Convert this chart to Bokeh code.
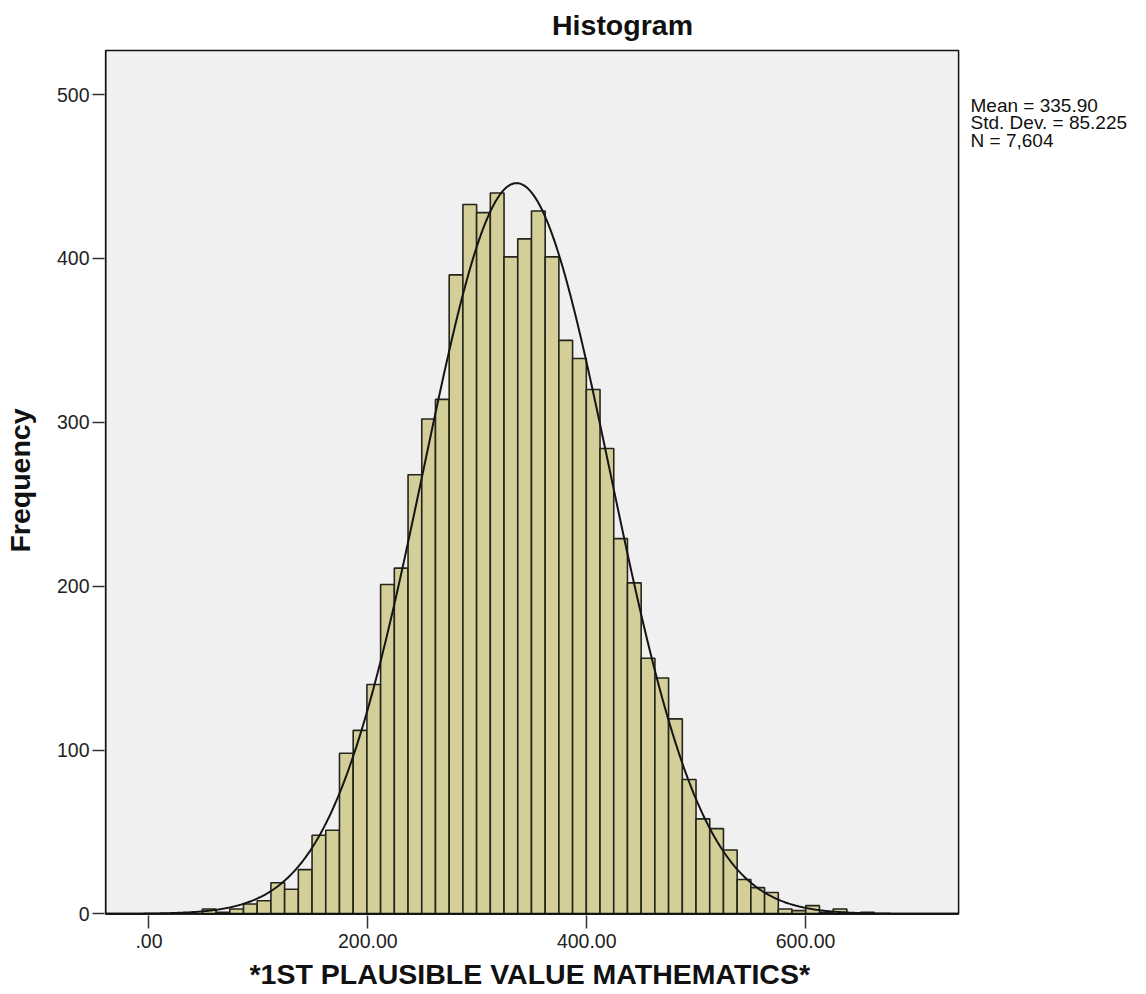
import numpy as np
from bokeh.plotting import figure
from bokeh.models import FixedTicker, ColumnDataSource, Range1d, Title
from bokeh.core.properties import value
from bokeh.embed import file_html
from bokeh.resources import INLINE

# ---- data ----
bin_start = 48.8
bin_width = 12.53
counts = [3, 1, 3, 6, 8, 19, 15, 27, 48, 51, 98, 112, 140, 201, 211,
          268, 302, 314, 390, 433, 428, 440, 401, 412, 429, 401, 350, 339, 320,
          284, 229, 202, 156, 144,
          119, 82, 58, 52, 39, 21, 16, 13, 3, 2, 5, 1, 3, 0, 1]
mean = 335.90
std = 85.225
n_total = 7604
x_ticks = [0, 200, 400, 600]
x_tick_labels = [".00", "200.00", "400.00", "600.00"]
y_ticks = [0, 100, 200, 300, 400, 500]
stats_lines = ["Mean = 335.90", "Std. Dev. = 85.225", "N = 7,604"]
x_title = "*1ST PLAUSIBLE VALUE MATHEMATICS*"
y_title = "Frequency"

FONT = "Liberation Sans"

# axis extents of the SPSS panel
x0, x1 = -39.6, 739.8
y0, y1 = 0, 527
x_end = 906.0  # frame extends to the right to hold the statistics text

left = [bin_start + i * bin_width for i in range(len(counts))]
right = [l + bin_width for l in left]
src = ColumnDataSource(dict(left=left, right=right, top=counts, bottom=[0] * len(counts)))

p = figure(frame_width=1036, frame_height=870, output_backend="svg", toolbar_location=None,
           x_range=Range1d(x0 - 1.0, x_end), y_range=Range1d(-1, 530),
           min_border_left=104, min_border_right=4, min_border_top=45, min_border_bottom=40,
           title="Histogram")
p.title.text_font = FONT
p.title.text_font_size = "28.5px"
p.title.text_font_style = "bold"
p.title.align = "center"
p.title.text_color = "#111111"

p.background_fill_color = "white"
p.border_fill_color = "white"
p.outline_line_color = None
p.grid.visible = False

# grey plotting panel with black border
p.quad(left=[x0], right=[x1], bottom=[y0], top=[y1],
       fill_color="#f0f0f0", line_color="#111111", line_width=1.5)

p.quad(left="left", right="right", top="top", bottom="bottom", source=src,
       fill_color="#d4cf98", line_color="#25251d", line_width=1.6)

xs = np.linspace(x0, x1, 600)
ys = n_total * bin_width / (std * np.sqrt(2 * np.pi)) * np.exp(-0.5 * ((xs - mean) / std) ** 2)
p.line(xs, ys, line_color="#151515", line_width=2)

# redraw bottom / left border on top of bars
p.line([x0, x1], [y0, y0], line_color="#111111", line_width=2)
p.line([x0, x0], [y0, y1], line_color="#111111", line_width=1.5)

# axes
p.xaxis.ticker = FixedTicker(ticks=x_ticks)
p.xaxis.major_label_overrides = {t: l for t, l in zip(x_ticks, x_tick_labels)}
p.yaxis.ticker = FixedTicker(ticks=y_ticks)
for ax in (p.xaxis, p.yaxis):
    ax.minor_tick_line_color = None
    ax.major_tick_in = 0
    ax.axis_line_color = None
    ax.major_tick_line_color = "#333333"
    ax.major_tick_line_width = 1.5
    ax.major_label_text_font = FONT
    ax.major_label_text_font_size = "19.5px"
    ax.major_label_text_color = "#222222"
    ax.axis_label_text_font = FONT
    ax.axis_label_text_font_size = "28.5px"
    ax.axis_label_text_font_style = "bold"
    ax.axis_label_text_color = "#111111"
p.xaxis.major_tick_out = 13
p.xaxis.major_label_standoff = 5
p.yaxis.major_tick_out = 12
p.yaxis.major_label_standoff = 3
p.yaxis.axis_label = y_title
p.yaxis.axis_label_standoff = 18

# x axis title, left-aligned under the grey panel
xt = Title(text=x_title, align="left", offset=145, text_font=FONT, text_font_size="28.5px",
           text_font_style="bold", text_color="#111111", standoff=10)
p.add_layout(xt, "below")

# statistics text
p.text(x=[750.7] * 3, y=[500 - i * 10.7 for i in range(3)], text=stats_lines,
       text_font=value(FONT), text_font_size="19px", text_baseline="top",
       text_align="left", text_color="#111111")

open("out.html", "w").write(file_html(p, INLINE))
